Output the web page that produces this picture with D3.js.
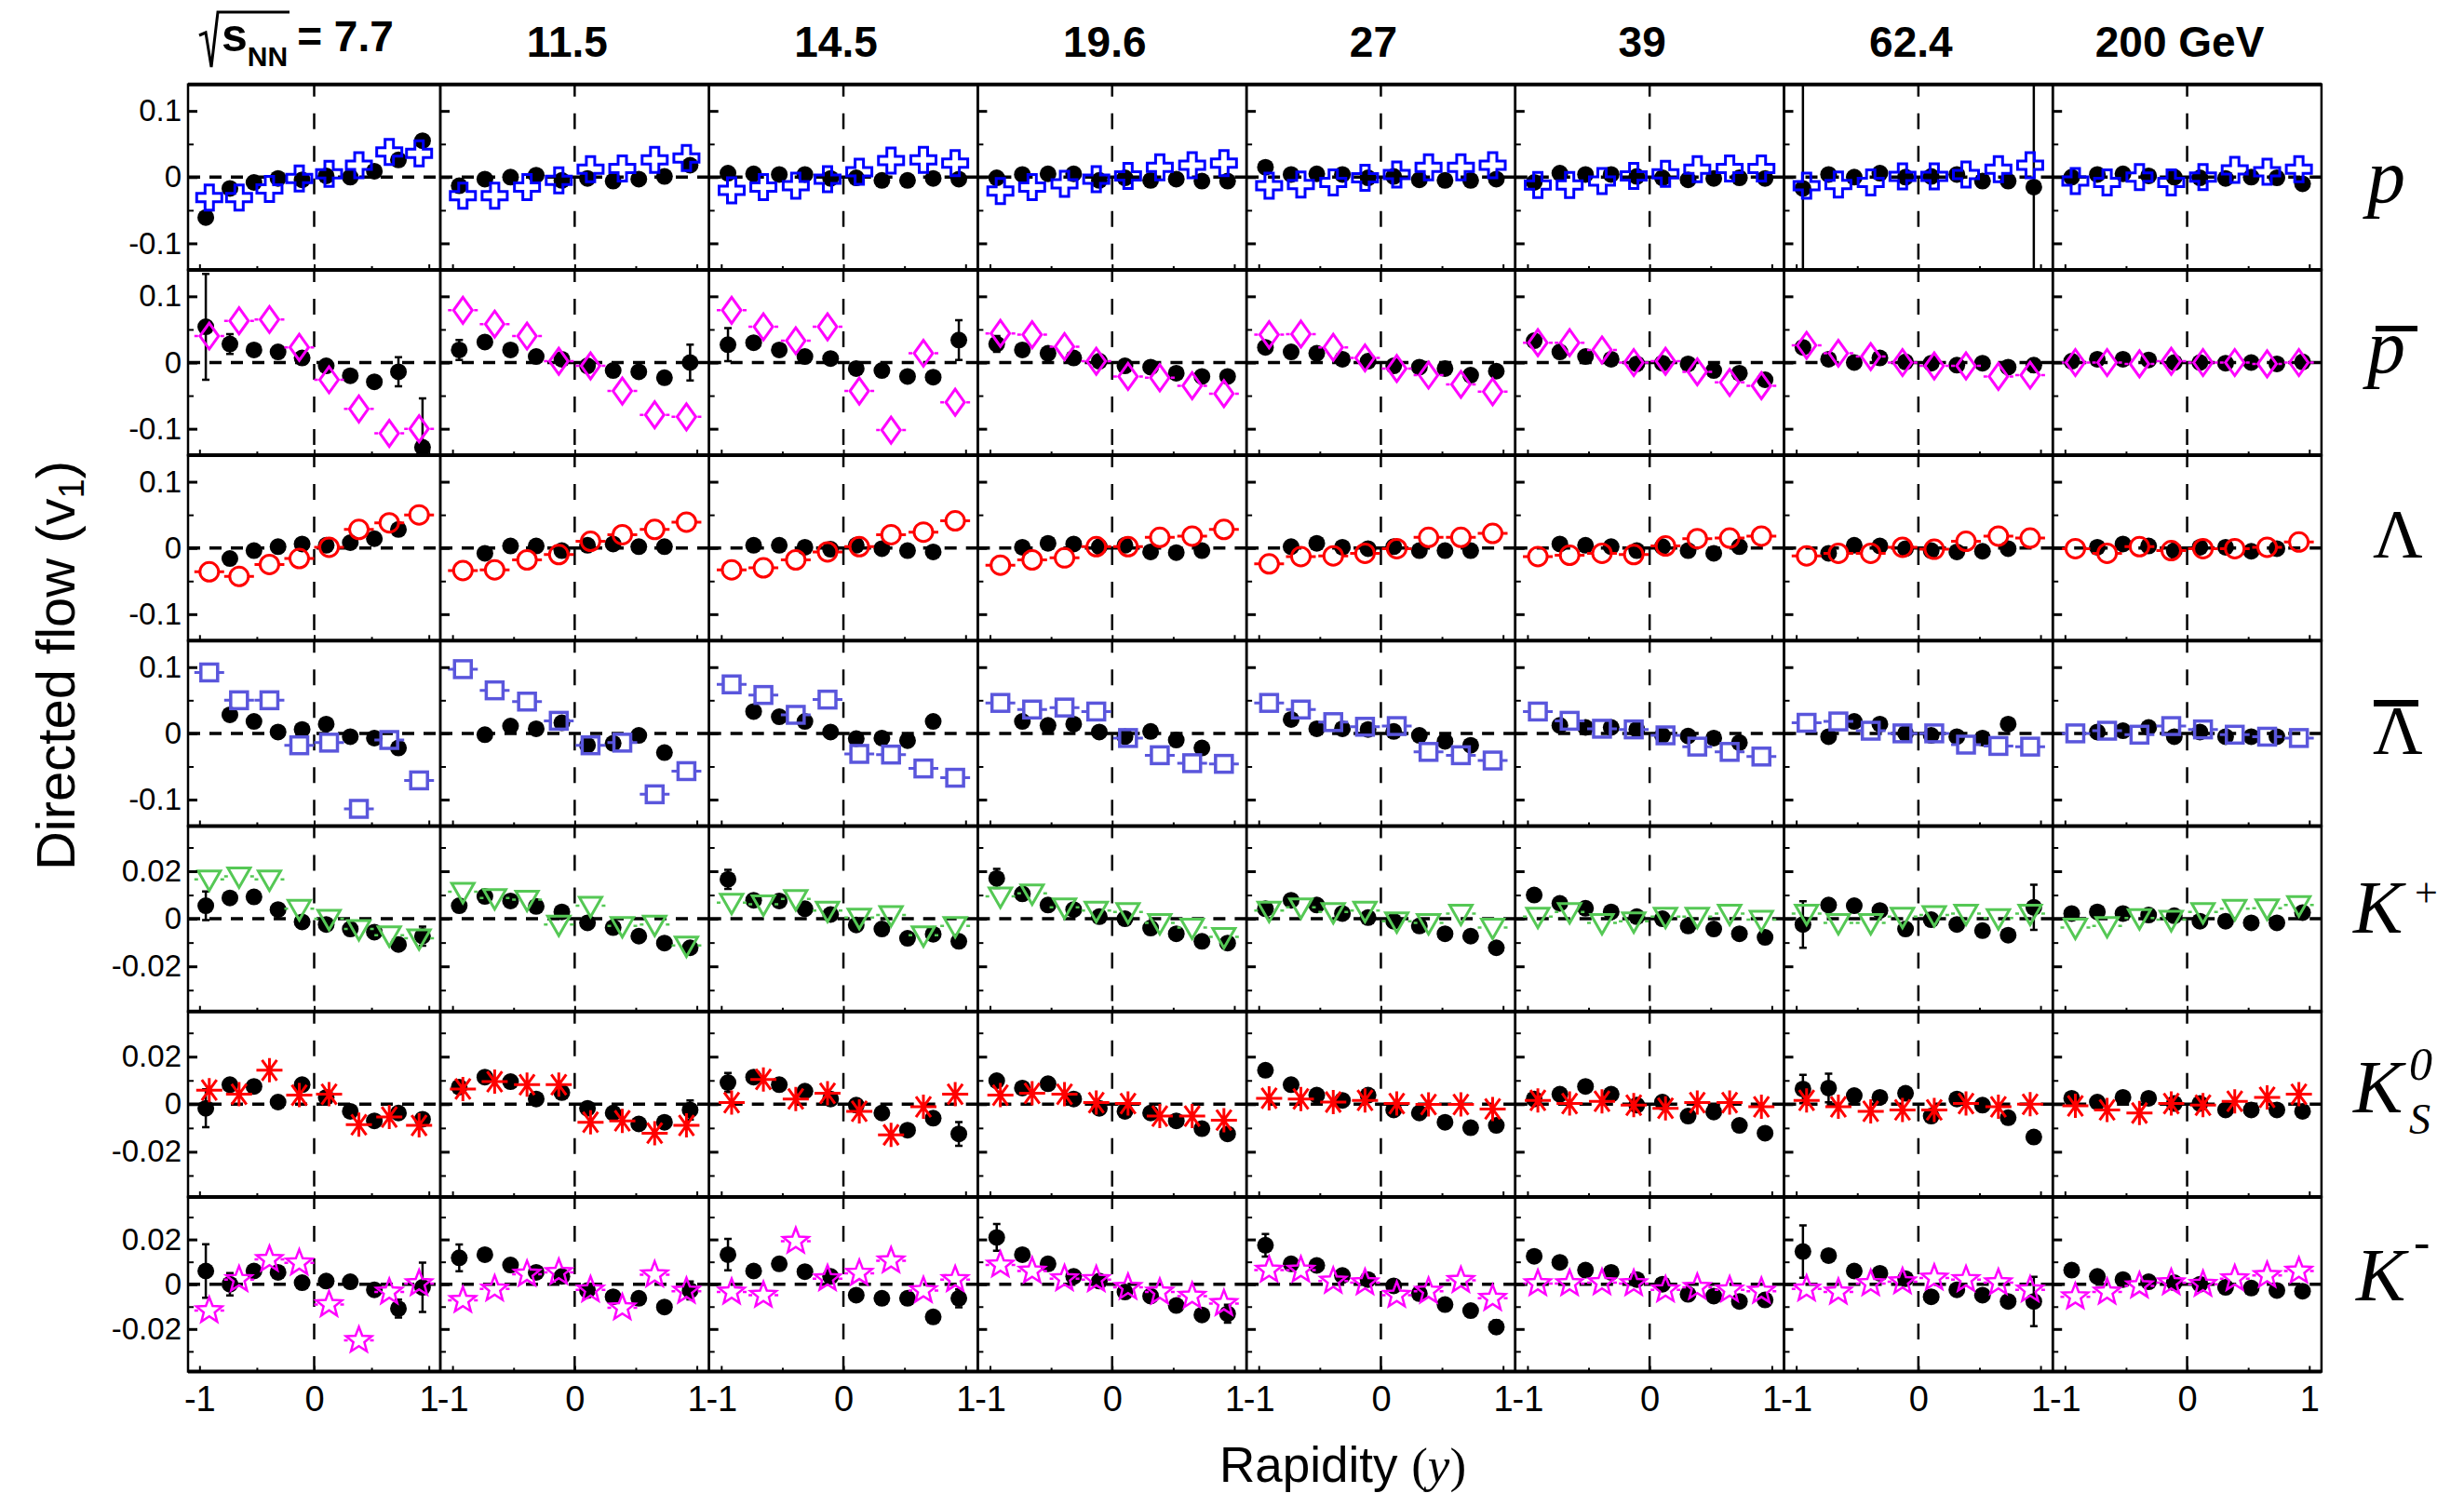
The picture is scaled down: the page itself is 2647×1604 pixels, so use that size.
<!DOCTYPE html>
<html>
<head>
<meta charset="utf-8">
<script src="https://cdn.jsdelivr.net/npm/d3@7"></script>
<style>
  body { margin: 0; background: #fff; }
  svg { display: block; }
</style>
</head>
<body>
<script>
const WIDTH = 2647, HEIGHT = 1604
const LEFT = 202, FIRST_COL_W = 271, COL_W = 288.7
const TOP = 90.7, ROW_H = 199.2, LAST_ROW_H = 187.6
const SANS = "'Liberation Sans', Arial, Helvetica, sans-serif"
const SERIF = "'Liberation Serif', 'Times New Roman', serif"

// beam energies (columns)
const energies = ["7.7", "11.5", "14.5", "19.6", "27", "39", "62.4", "200 GeV"]

// rapidity bin centres
const rapidityFilled = [-0.945, -0.735, -0.525, -0.315, -0.105, 0.105, 0.315, 0.525, 0.735, 0.945]
const rapidityOpen = [-0.915, -0.655, -0.39, -0.13, 0.13, 0.39, 0.655, 0.915]

// v1 values, one list per energy (filled = black circles, open = coloured markers)
const v1ProtonFilled = [
  [-0.061, -0.017, -0.008, -0.002, -0.004, 0.002, 0.0, 0.009, 0.026, 0.055],
  [-0.013, -0.003, 0.0, 0.003, -0.005, -0.002, -0.006, -0.003, 0.001, 0.018],
  [0.006, 0.005, 0.004, 0.004, -0.002, -0.001, -0.005, -0.005, -0.002, -0.003],
  [-0.001, 0.004, 0.005, 0.005, -0.005, -0.001, -0.005, -0.003, -0.006, -0.006],
  [0.015, 0.004, 0.005, 0.004, -0.001, 0.001, -0.004, -0.005, -0.005, -0.003],
  [-0.008, 0.006, 0.004, 0.004, 0.001, -0.001, -0.004, -0.002, -0.001, -0.002],
  [-0.017, 0.004, 0.0, 0.006, 0.0, 0.001, 0.004, -0.006, -0.006, -0.015],
  [0.0, 0.004, 0.005, 0.002, 0.0, -0.001, -0.002, 0.0, -0.001, -0.01]
]
const v1ProtonOpen = [
  [-0.031, -0.031, -0.018, -0.002, 0.005, 0.018, 0.038, 0.036],
  [-0.028, -0.028, -0.015, -0.005, 0.012, 0.013, 0.026, 0.029],
  [-0.02, -0.015, -0.013, -0.003, 0.008, 0.025, 0.026, 0.021],
  [-0.021, -0.015, -0.01, -0.003, 0.002, 0.015, 0.018, 0.021],
  [-0.013, -0.011, -0.008, -0.001, 0.004, 0.015, 0.015, 0.018],
  [-0.012, -0.012, -0.006, 0.002, 0.005, 0.012, 0.013, 0.013],
  [-0.013, -0.011, -0.008, 0.001, 0.001, 0.004, 0.012, 0.018],
  [-0.006, -0.008, 0.0, -0.008, 0.0, 0.011, 0.008, 0.012]
]
const v1AntiProtonFilled = [
  [0.054, 0.028, 0.019, 0.016, 0.007, -0.005, -0.02, -0.029, -0.014, -0.128],
  [0.019, 0.031, 0.019, 0.009, 0.005, -0.005, -0.012, -0.014, -0.023, 0.0],
  [0.027, 0.03, 0.019, 0.009, 0.006, -0.009, -0.012, -0.021, -0.022, 0.034],
  [0.028, 0.019, 0.014, 0.007, 0.002, -0.005, -0.007, -0.016, -0.021, -0.021],
  [0.023, 0.016, 0.014, 0.005, 0.002, -0.005, -0.007, -0.009, -0.019, -0.013],
  [0.033, 0.016, 0.009, 0.005, -0.002, -0.001, -0.002, -0.012, -0.016, -0.026],
  [0.023, 0.005, 0.0, 0.007, 0.001, -0.001, -0.004, -0.001, -0.007, -0.004],
  [0.002, 0.005, 0.005, 0.004, 0.0, 0.0, -0.001, 0.0, -0.002, 0.001]
]
const v1AntiProtonOpen = [
  [0.04, 0.063, 0.065, 0.023, -0.026, -0.07, -0.107, -0.1],
  [0.079, 0.058, 0.04, 0.002, -0.005, -0.043, -0.079, -0.082],
  [0.079, 0.054, 0.033, 0.054, -0.043, -0.102, 0.014, -0.06],
  [0.044, 0.042, 0.024, 0.002, -0.021, -0.023, -0.035, -0.047],
  [0.042, 0.043, 0.023, 0.007, -0.009, -0.019, -0.033, -0.044],
  [0.03, 0.03, 0.019, 0.0, 0.002, -0.014, -0.03, -0.035],
  [0.026, 0.014, 0.009, 0.0, -0.005, -0.005, -0.021, -0.019],
  [0.0, 0.0, -0.002, 0.002, 0.0, 0.0, -0.002, 0.0]
]
const v1LambdaFilled = [
  [null, -0.016, -0.004, 0.002, 0.006, 0.004, 0.008, 0.014, 0.028, null],
  [null, -0.008, 0.003, 0.003, -0.004, 0.004, 0.006, 0.002, 0.002, null],
  [null, 0.004, 0.004, 0.001, -0.002, 0.004, -0.001, -0.004, -0.006, null],
  [null, 0.001, 0.007, 0.006, 0.002, 0.004, -0.006, -0.007, -0.004, null],
  [null, 0.002, 0.007, 0.001, -0.001, 0.002, -0.004, -0.004, -0.004, null],
  [null, 0.006, 0.004, 0.002, -0.004, 0.002, -0.004, -0.008, 0.002, null],
  [null, -0.008, 0.004, 0.003, -0.001, -0.004, -0.006, -0.005, -0.001, null],
  [null, 0.001, 0.006, 0.003, -0.004, 0.001, 0.001, -0.005, -0.001, null]
]
const v1LambdaOpen = [
  [-0.036, -0.043, -0.025, -0.016, 0.001, 0.028, 0.038, 0.05],
  [-0.034, -0.033, -0.018, -0.01, 0.01, 0.02, 0.028, 0.039],
  [-0.033, -0.03, -0.018, -0.006, 0.002, 0.02, 0.024, 0.041],
  [-0.026, -0.018, -0.015, 0.002, 0.002, 0.016, 0.018, 0.028],
  [-0.024, -0.013, -0.012, -0.008, -0.001, 0.016, 0.016, 0.022],
  [-0.013, -0.011, -0.008, -0.01, 0.003, 0.014, 0.015, 0.018],
  [-0.012, -0.008, -0.008, 0.001, -0.002, 0.01, 0.018, 0.015],
  [-0.001, -0.008, 0.002, -0.004, -0.001, -0.001, 0.001, 0.009]
]
const v1AntiLambdaFilled = [
  [null, 0.028, 0.018, 0.002, 0.006, 0.014, -0.005, -0.007, -0.022, null],
  [null, -0.002, 0.011, 0.007, 0.016, -0.018, -0.015, -0.003, -0.029, null],
  [null, 0.033, 0.025, 0.018, 0.002, -0.008, -0.007, -0.011, 0.018, null],
  [null, 0.018, 0.012, 0.014, 0.002, -0.005, 0.003, -0.01, -0.022, null],
  [null, 0.021, 0.007, 0.007, 0.006, 0.003, -0.003, -0.012, -0.018, null],
  [null, 0.012, 0.009, 0.009, 0.006, -0.003, -0.004, -0.007, -0.014, null],
  [null, -0.005, 0.018, 0.014, 0.0, -0.003, -0.005, -0.007, 0.014, null],
  [null, 0.002, 0.004, 0.009, -0.005, 0.002, -0.005, -0.005, -0.005, null]
]
const v1AntiLambdaOpen = [
  [0.092, 0.05, 0.05, -0.018, -0.014, -0.114, -0.01, -0.071],
  [0.097, 0.065, 0.048, 0.019, -0.018, -0.014, -0.092, -0.057],
  [0.074, 0.058, 0.028, 0.051, -0.031, -0.032, -0.053, -0.067],
  [0.046, 0.036, 0.039, 0.033, -0.007, -0.033, -0.045, -0.046],
  [0.046, 0.036, 0.017, 0.01, 0.011, -0.028, -0.033, -0.041],
  [0.033, 0.019, 0.007, 0.006, -0.003, -0.02, -0.028, -0.035],
  [0.016, 0.018, 0.004, 0.0, 0.0, -0.017, -0.019, -0.02],
  [0.0, 0.004, -0.002, 0.011, 0.006, -0.002, -0.005, -0.007]
]
const v1KPlusFilled = [
  [0.0055, 0.0088, 0.0092, 0.0039, -0.0013, -0.0024, -0.0043, -0.0056, -0.0108, -0.0073],
  [0.0055, 0.0094, 0.0075, 0.0052, 0.0029, -0.0017, -0.0037, -0.0073, -0.0102, -0.0122],
  [0.0166, 0.0078, 0.0075, 0.0042, 0.0018, -0.0026, -0.0043, -0.0082, -0.0065, -0.0095],
  [0.017, 0.0105, 0.0058, 0.0039, 0.0009, 0.0, -0.0039, -0.0063, -0.0095, -0.0102],
  [0.0042, 0.0078, 0.0058, 0.0022, 0.0005, -0.001, -0.003, -0.0063, -0.0073, -0.0122],
  [0.01, 0.0065, 0.0044, 0.0029, 0.0009, 0.0, -0.003, -0.0043, -0.0063, -0.0078],
  [-0.0024, 0.0058, 0.0055, 0.0035, -0.0043, -0.0004, -0.0024, -0.005, -0.0069, 0.0048],
  [0.0022, 0.0029, 0.0022, 0.0016, 0.0013, -0.001, -0.001, -0.0017, -0.0017, 0.0026]
]
const v1KPlusOpen = [
  [0.0166, 0.0179, 0.0166, 0.0042, 0.0, -0.0043, -0.0069, -0.0082],
  [0.0114, 0.0088, 0.0081, -0.0024, 0.0055, -0.003, -0.0024, -0.0112],
  [0.0068, 0.0061, 0.0084, 0.0035, 0.0005, 0.0016, -0.0069, -0.003],
  [0.0094, 0.0107, 0.0048, 0.0035, 0.0029, -0.0017, -0.0037, -0.0076],
  [0.0035, 0.0048, 0.0029, 0.0035, -0.001, -0.0017, 0.0022, -0.0037],
  [0.0009, 0.0029, -0.0017, -0.001, 0.0009, 0.0009, 0.0022, -0.0004],
  [0.0022, -0.0017, -0.0017, 0.0009, 0.0016, 0.0022, 0.0003, 0.0022],
  [-0.0037, -0.003, 0.0003, -0.0004, 0.0029, 0.0042, 0.0044, 0.0058]
]
const v1K0sFilled = [
  [-0.0017, 0.0082, 0.0075, 0.0009, 0.0082, 0.0029, -0.003, -0.007, -0.0037, -0.0063],
  [0.0072, 0.0114, 0.0095, 0.0022, 0.0049, -0.0017, -0.0037, -0.0083, -0.0076, -0.0024],
  [0.0091, 0.0114, 0.0082, 0.0055, 0.0022, -0.0004, -0.0037, -0.0109, -0.0059, -0.0125],
  [0.0099, 0.0068, 0.0086, 0.0022, -0.0017, -0.003, -0.0037, -0.007, -0.0103, -0.0125],
  [0.0143, 0.0082, 0.0038, 0.0016, 0.0038, -0.0024, -0.0037, -0.0076, -0.0099, -0.0089],
  [0.0022, 0.0042, 0.0075, 0.0042, -0.0004, 0.0009, -0.005, -0.0033, -0.0089, -0.0122],
  [0.0064, 0.0068, 0.0036, 0.0029, 0.0046, -0.005, 0.0022, -0.0004, -0.0057, -0.0138],
  [0.0025, 0.0009, 0.0029, 0.0025, 0.0003, 0.0003, -0.0024, -0.0024, -0.0024, -0.003]
]
const v1K0sOpen = [
  [0.0059, 0.0042, 0.0143, 0.0038, 0.0042, -0.0086, -0.0054, -0.0089],
  [0.0064, 0.0095, 0.0082, 0.0082, -0.0076, -0.007, -0.0122, -0.0089],
  [0.0007, 0.0104, 0.0022, 0.0046, -0.003, -0.0129, -0.0011, 0.0042],
  [0.0038, 0.0046, 0.0042, 0.0007, 0.0003, -0.005, -0.005, -0.0067],
  [0.0025, 0.0022, 0.0009, 0.0016, 0.0003, -0.0001, -0.0001, -0.002],
  [0.0016, 0.0003, 0.0012, -0.0004, -0.0017, 0.0007, 0.0007, -0.0011],
  [0.0016, -0.0011, -0.003, -0.0024, -0.0024, 0.0003, -0.0011, 0.0],
  [-0.0007, -0.0024, -0.0037, 0.0003, -0.0004, 0.0012, 0.0029, 0.0042]
]
const v1KMinusFilled = [
  [0.0059, 0.0, 0.0059, 0.0053, 0.0007, 0.0014, 0.0011, -0.0025, -0.0109, -0.0014],
  [0.0118, 0.0132, 0.0086, 0.0053, 0.0035, -0.0028, -0.0056, -0.0063, -0.0102, -0.0028],
  [0.0132, 0.0059, 0.0091, 0.0056, 0.0035, -0.0049, -0.0063, -0.0063, -0.0146, -0.0063],
  [0.0209, 0.0132, 0.0091, 0.0035, 0.0014, -0.0035, -0.0053, -0.0095, -0.0137, -0.0132],
  [0.0174, 0.0091, 0.0084, 0.0039, 0.0021, -0.0007, -0.0042, -0.0091, -0.0118, -0.0191],
  [0.0125, 0.0098, 0.0063, 0.0053, 0.0021, 0.0, -0.0045, -0.0053, -0.0077, -0.007],
  [0.0146, 0.0128, 0.0059, 0.0049, 0.0025, -0.0056, -0.0025, -0.0049, -0.0077, -0.0077],
  [0.0063, 0.0035, 0.0021, 0.0011, 0.0007, 0.0, -0.0014, -0.0017, -0.0028, -0.0031]
]
const v1KMinusOpen = [
  [-0.0118, 0.0021, 0.0111, 0.0095, -0.0091, -0.0251, -0.0035, 0.0003],
  [-0.0072, -0.0021, 0.0045, 0.0053, -0.0025, -0.0105, 0.0042, -0.0031],
  [-0.0035, -0.0049, 0.0192, 0.0025, 0.0049, 0.0105, -0.0028, 0.0021],
  [0.0086, 0.0059, 0.0025, 0.0021, -0.0014, -0.0035, -0.0053, -0.0086],
  [0.0063, 0.0063, 0.0014, 0.0007, -0.0049, -0.0031, 0.0017, -0.0063],
  [0.0003, 0.0003, 0.0007, 0.0003, -0.0025, -0.0014, -0.0025, -0.0031],
  [-0.0021, -0.0035, 0.0003, 0.0011, 0.0028, 0.0021, 0.0007, -0.0025],
  [-0.0056, -0.0035, -0.0007, 0.0007, 0.0, 0.0025, 0.0039, 0.0059]
]

// visible error bars on filled points: [row, energy, point, error]
const filledErrors = [
  [0, 6, 0, 0.3], [0, 6, 9, 0.3],
  [1, 0, 0, 0.08], [1, 0, 1, 0.015], [1, 0, 8, 0.022], [1, 0, 9, 0.074],
  [1, 1, 0, 0.015], [1, 1, 9, 0.027], [1, 2, 0, 0.025], [1, 2, 9, 0.03],
  [1, 3, 0, 0.012], [1, 6, 9, 0.01],
  [4, 0, 0, 0.006], [4, 0, 9, 0.004], [4, 2, 0, 0.004], [4, 3, 0, 0.004],
  [4, 6, 0, 0.0098], [4, 6, 9, 0.0095],
  [5, 0, 0, 0.008], [5, 1, 9, 0.004], [5, 2, 0, 0.004], [5, 2, 9, 0.005],
  [5, 6, 0, 0.006], [5, 6, 1, 0.006],
  [6, 0, 0, 0.012], [6, 0, 1, 0.005], [6, 0, 8, 0.004], [6, 0, 9, 0.011],
  [6, 1, 0, 0.006], [6, 1, 9, 0.004], [6, 2, 0, 0.007], [6, 2, 9, 0.004],
  [6, 3, 0, 0.006], [6, 3, 9, 0.004], [6, 4, 0, 0.005], [6, 4, 9, 0.003],
  [6, 6, 0, 0.0117], [6, 6, 9, 0.011]
]

const rows = [
  { filled: v1ProtonFilled, open: v1ProtonOpen, marker: "cross", color: "#0000ff", lim: 0.14 },
  { filled: v1AntiProtonFilled, open: v1AntiProtonOpen, marker: "diamond", color: "#ff00ff", lim: 0.14 },
  { filled: v1LambdaFilled, open: v1LambdaOpen, marker: "circle", color: "#ff0000", lim: 0.14 },
  { filled: v1AntiLambdaFilled, open: v1AntiLambdaOpen, marker: "square", color: "#5a56dc", lim: 0.14 },
  { filled: v1KPlusFilled, open: v1KPlusOpen, marker: "triangle", color: "#55c855", lim: 0.039 },
  { filled: v1K0sFilled, open: v1K0sOpen, marker: "asterisk", color: "#ff0000", lim: 0.039 },
  { filled: v1KMinusFilled, open: v1KMinusOpen, marker: "star", color: "#ff00ff", lim: 0.039 }
]

function starPath(outer, inner) {
  const pts = d3.range(10).map(i => {
    const a = -Math.PI / 2 + i * Math.PI / 5
    const rr = i % 2 ? inner : outer
    return [rr * Math.cos(a), rr * Math.sin(a)]
  })
  return "M" + pts.map(p => p.join(",")).join("L") + "Z"
}

const markerPaths = {
  cross: d3.symbol(d3.symbolCross, 405)(),
  diamond: "M0,-14L10,0L0,14L-10,0Z",
  triangle: "M-12,-9L12,-9L0,12Z",
  asterisk: "M0,-13V13M-8,-11L8,11M8,-11L-8,11M-14,0H14",
  star: starPath(14.5, 6.2)
}
// horizontal bin bars beside the open markers
const barDash = { diamond: "4,24,4", triangle: "4,24,4", star: "4,24,4", circle: "6,20,6", square: "7,18,7" }

const svg = d3.select("body").append("svg")
  .attr("width", WIDTH)
  .attr("height", HEIGHT)
  .style("font-family", SANS)

svg.append("rect").attr("width", WIDTH).attr("height", HEIGHT).attr("fill", "#fff")
const defs = svg.append("defs")

const colX = c => c === 0 ? LEFT : LEFT + FIRST_COL_W + (c - 1) * COL_W
const colW = c => c === 0 ? FIRST_COL_W : COL_W
const rowY = r => TOP + r * ROW_H
const rowH = r => r === rows.length - 1 ? LAST_ROW_H : ROW_H

rows.forEach((row, r) => {
  energies.forEach((energy, c) => {
    const x0 = colX(c), w = colW(c), y0 = rowY(r), h = rowH(r)
    const x = d3.scaleLinear().domain([-1.1, 1.1]).range([x0, x0 + w])
    const y = d3.scaleLinear().domain([-row.lim, row.lim]).range([y0 + h, y0])

    const clipId = `clip-${r}-${c}`
    defs.append("clipPath").attr("id", clipId)
      .append("rect").attr("x", x0).attr("y", y0).attr("width", w).attr("height", h)

    const g = svg.append("g")
    const inner = g.append("g").attr("clip-path", `url(#${clipId})`)

    // zero lines
    inner.append("line")
      .attr("x1", x(0)).attr("x2", x(0)).attr("y1", y0).attr("y2", y0 + h)
      .attr("stroke", "#000").attr("stroke-width", 2.5).attr("stroke-dasharray", "17,18")
      .attr("stroke-dashoffset", 4)
    inner.append("line")
      .attr("x1", x0).attr("x2", x0 + w).attr("y1", y(0)).attr("y2", y(0))
      .attr("stroke", "#000").attr("stroke-width", 3.5).attr("stroke-dasharray", "13,10")

    // filled points
    const filled = row.filled[c]
      .map((v, i) => ({ x: rapidityFilled[i], v: v, i: i }))
      .filter(d => d.v !== null)
    const errs = filledErrors.filter(e => e[0] === r && e[1] === c)
    errs.forEach(e => {
      const v = row.filled[c][e[2]], xx = x(rapidityFilled[e[2]])
      inner.append("path")
        .attr("d", `M${xx},${y(v - e[3])}V${y(v + e[3])}M${xx - 4},${y(v - e[3])}h8M${xx - 4},${y(v + e[3])}h8`)
        .attr("stroke", "#000").attr("stroke-width", 2.5).attr("fill", "none")
    })
    inner.append("g").selectAll("circle")
      .data(filled)
      .join("circle")
      .attr("cx", d => x(d.x))
      .attr("cy", d => y(d.v))
      .attr("r", 9)
      .attr("fill", "#000")

    // open points
    const open = row.open[c].map((v, i) => ({ x: rapidityOpen[i], v: v }))
    const pts = inner.append("g").selectAll("g")
      .data(open)
      .join("g")
      .attr("transform", d => `translate(${x(d.x)},${y(d.v)})`)
      .attr("stroke", row.color)
      .attr("fill", "none")
    if (barDash[row.marker]) {
      pts.append("line").attr("x1", -16).attr("x2", 16)
        .attr("stroke-width", row.marker === "circle" || row.marker === "square" ? 3 : 2.5)
        .attr("stroke-dasharray", barDash[row.marker])
    }
    if (row.marker === "circle") {
      pts.append("circle").attr("r", 10).attr("stroke-width", 3)
    } else if (row.marker === "square") {
      pts.append("rect").attr("x", -9).attr("y", -9).attr("width", 18).attr("height", 18).attr("stroke-width", 3.5)
    } else {
      pts.append("path").attr("d", markerPaths[row.marker])
        .attr("stroke-width", row.marker === "star" ? 2.5 : 3)
        .attr("stroke-linejoin", "miter")
    }

    // ticks (inward)
    const isKaon = row.lim < 0.1
    const yMajor = isKaon ? [-0.02, 0, 0.02] : [-0.1, 0, 0.1]
    const yMinor = isKaon ? [-0.03, -0.01, 0.01, 0.03] : [-0.05, 0.05]
    const yAxis = g.append("g").attr("transform", `translate(${x0},0)`)
      .call(d3.axisLeft(y).tickValues(yMajor).tickSize(-10).tickPadding(7)
        .tickFormat(d => c === 0 ? String(d) : ""))
    const yAxisMinor = g.append("g").attr("transform", `translate(${x0},0)`)
      .call(d3.axisLeft(y).tickValues(yMinor).tickSize(-6).tickFormat(""))
    const xAxis = g.append("g").attr("transform", `translate(0,${y0 + h})`)
      .call(d3.axisBottom(x).tickValues([-1, 0, 1]).tickSize(-6).tickPadding(16)
        .tickFormat(d => r === rows.length - 1 ? String(d) : ""))
    const xAxisMinor = g.append("g").attr("transform", `translate(0,${y0 + h})`)
      .call(d3.axisBottom(x).tickValues([-0.5, 0.5]).tickSize(-4).tickFormat(""))
    ;[yAxis, yAxisMinor, xAxis, xAxisMinor].forEach(a => {
      a.select(".domain").remove()
      a.attr("font-family", SANS).attr("font-size", 33)
      a.selectAll("line").attr("stroke-width", 3)
    })
    yAxisMinor.selectAll("line").attr("stroke-width", 2)
    xAxis.selectAll("line").attr("stroke-width", 2)
    xAxisMinor.selectAll("line").attr("stroke-width", 2)
    xAxis.attr("font-size", 38)

    // frame
    g.append("rect").attr("x", x0).attr("y", y0).attr("width", w).attr("height", h)
      .attr("fill", "none").attr("stroke", "#000").attr("stroke-width", 2.5)
  })
})

// heavier horizontal frame lines between rows
const rowEdges = d3.range(rows.length).map(rowY).concat([rowY(rows.length - 1) + LAST_ROW_H])
svg.append("g").selectAll("line")
  .data(rowEdges)
  .join("line")
  .attr("x1", LEFT).attr("x2", colX(energies.length - 1) + COL_W)
  .attr("y1", d => d).attr("y2", d => d)
  .attr("stroke", "#000").attr("stroke-width", 4)

// column headers
const header = svg.append("g").attr("font-weight", "bold").attr("font-size", 46)
energies.forEach((e, c) => {
  if (c === 0) return
  header.append("text")
    .attr("x", colX(c) + colW(c) / 2 - 8)
    .attr("y", 61)
    .attr("text-anchor", "middle")
    .text(e)
})
header.append("path")
  .attr("d", "M214,38L221,35L227,72L234,13L311,13")
  .attr("fill", "none").attr("stroke", "#000").attr("stroke-width", 3)
const h0 = header.append("text").attr("x", 238).attr("y", 55)
h0.append("tspan").attr("font-size", 50).text("s")
h0.append("tspan").attr("font-size", 30).attr("dy", 16).text("NN")
h0.append("tspan").attr("dy", -16).attr("dx", 10).text("= 7.7")

// particle labels on the right
const lab = svg.append("g").attr("font-family", SERIF).attr("fill", "#000")
const labelText = (x, yb, txt, size, italic) =>
  lab.append("text").attr("x", x).attr("y", yb).attr("font-size", size)
    .attr("font-style", italic ? "italic" : "normal").text(txt)
labelText(2543, 217, "p", 82, true)
labelText(2543, 400, "p", 82, true)
lab.append("rect").attr("x", 2552).attr("y", 350).attr("width", 45).attr("height", 6)
labelText(2549, 599, "Λ", 74, false)
labelText(2549, 810, "Λ", 74, false)
lab.append("rect").attr("x", 2550).attr("y", 752).attr("width", 48).attr("height", 7)
labelText(2528, 1002, "K", 80, true)
labelText(2594, 974, "+", 44, false)
labelText(2528, 1195, "K", 80, true)
labelText(2588, 1160, "0", 50, true)
labelText(2588, 1218, "S", 46, true)
labelText(2531, 1397, "K", 80, true)
labelText(2593, 1352, "-", 52, false)

// axis titles
const yTitle = svg.append("text")
  .attr("transform", "translate(80,715) rotate(-90)")
  .attr("text-anchor", "middle")
  .attr("font-size", 58)
yTitle.append("tspan").text("Directed flow (v")
yTitle.append("tspan").attr("font-size", 38).attr("dy", 10).text("1")
yTitle.append("tspan").attr("dy", -10).text(")")

const xTitle = svg.append("text").attr("x", 1310).attr("y", 1592).attr("font-size", 53)
xTitle.append("tspan").text("Rapidity ")
xTitle.append("tspan").attr("font-family", SERIF).text("(")
xTitle.append("tspan").attr("font-family", SERIF).attr("font-style", "italic").text("y")
xTitle.append("tspan").attr("font-family", SERIF).text(")")
</script>
</body>
</html>
